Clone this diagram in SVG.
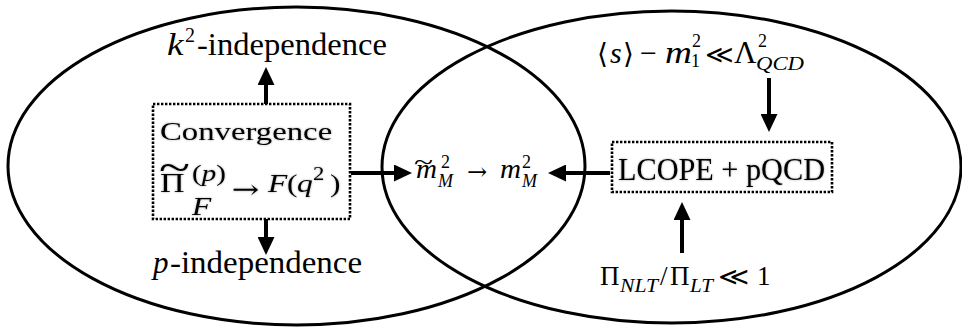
<svg xmlns="http://www.w3.org/2000/svg" width="962" height="332" viewBox="0 0 962 332">
<style>
.t{font-family:"Liberation Serif","DejaVu Serif","DejaVu Sans",serif;fill:#000}
.i{font-style:italic}
.sym{font-family:"DejaVu Serif","DejaVu Sans",serif;fill:#000}
.ell{fill:none;stroke:#000;stroke-width:3}
.box{fill:none;stroke:#000;stroke-width:2.6;stroke-dasharray:2.4 1.6}
.arr{stroke:#000;stroke-width:4;fill:none}
.glow{filter:url(#sh)}
</style>
<defs>
<marker id="ah" viewBox="0 0 18 17" refX="8" refY="8.5" markerWidth="18" markerHeight="17" markerUnits="userSpaceOnUse" orient="auto">
<path d="M0,0 L18,8.5 L0,17 Z" fill="#000"/>
</marker>
<filter id="sh" x="-10%" y="-20%" width="120%" height="140%">
<feGaussianBlur in="SourceAlpha" stdDeviation="1.3" result="b"/>
<feFlood flood-color="#000" flood-opacity="0.35"/>
<feComposite in2="b" operator="in" result="s"/>
<feMerge><feMergeNode in="s"/><feMergeNode in="SourceGraphic"/></feMerge>
</filter>
</defs>
<rect width="962" height="332" fill="#fff"/>
<g id="regions">
<ellipse class="ell" cx="296.5" cy="166" rx="288.5" ry="159"/>
<ellipse class="ell" cx="671.5" cy="167" rx="289.5" ry="156"/>
</g>
<g id="connectors">
<line class="arr" x1="266" y1="104" x2="266" y2="77" marker-end="url(#ah)"/>
<line class="arr" x1="266" y1="219" x2="266" y2="245" marker-end="url(#ah)"/>
<line class="arr" x1="351" y1="173" x2="402" y2="173" marker-end="url(#ah)"/>
<line class="arr" x1="610" y1="173" x2="558" y2="173" marker-end="url(#ah)"/>
<line class="arr" x1="769" y1="78" x2="769" y2="122" marker-end="url(#ah)"/>
<line class="arr" x1="682" y1="253" x2="682" y2="212" marker-end="url(#ah)"/>
</g>
<g id="k2-independence">
<text class="t i" transform="translate(167,55) scale(1.2,1)" font-size="31">k</text>
<text class="t" x="185" y="42" font-size="20">2</text>
<text class="t" x="197" y="55" font-size="31" textLength="190" lengthAdjust="spacingAndGlyphs">-independence</text>
</g>
<g id="p-independence">
<text class="t i" x="153" y="273" font-size="31">p</text>
<text class="t" x="170" y="273" font-size="31" textLength="192" lengthAdjust="spacingAndGlyphs">-independence</text>
</g>
<g id="convergence">
<rect class="box" x="153" y="104" width="197" height="115"/>
<g class="glow">
<text class="t" transform="translate(160,140) scale(1.26,1)" font-size="26">Convergence</text>
<text class="t" transform="translate(159,181) scale(1.43,1)" font-size="40">~</text>
<g transform="translate(160,192) scale(1.26,1)">
<text class="t" x="0" y="0" font-size="27">Π</text>
<text class="t" x="25.4" y="-11" font-size="23">(<tspan class="i">p</tspan>)</text>
<text class="t i" x="25.4" y="23" font-size="25">F</text>
<text class="sym" x="57" y="6" font-size="26">→</text>
<text class="t i" x="85.7" y="0" font-size="25">F</text>
<text class="t" x="100.8" y="0" font-size="25">(</text>
<text class="t i" x="108.7" y="0" font-size="25">q</text>
<text class="t" x="121.5" y="-12" font-size="18">2</text>
<text class="t" x="134.9" y="0" font-size="25">)</text>
</g>
</g>
</g>
<g id="mass">
<text class="t" transform="translate(414,170) scale(1.35,1)" font-size="26">~</text>
<text class="t i" transform="translate(416,178) scale(1.08,1)" font-size="27">m</text>
<text class="t" x="441" y="168" font-size="18">2</text>
<text class="t i" x="438" y="187" font-size="18">M</text>
<text class="sym" x="467" y="180" font-size="24">→</text>
<text class="t i" transform="translate(500,178) scale(1.08,1)" font-size="27">m</text>
<text class="t" x="522" y="168" font-size="18">2</text>
<text class="t i" x="522" y="187" font-size="18">M</text>
</g>
<g id="lcope-pqcd">
<rect class="box" x="612" y="142" width="220" height="50"/>
<text class="t glow" x="618" y="180" font-size="31" textLength="207" lengthAdjust="spacingAndGlyphs">LCOPE + pQCD</text>
</g>
<g id="s-condition">
<text class="sym" x="597" y="63" font-size="28">⟨</text>
<text class="t i" x="610" y="63" font-size="30">s</text>
<text class="sym" x="623" y="63" font-size="28">⟩</text>
<text class="t" x="640" y="63" font-size="30">−</text>
<text class="t i" transform="translate(665,63) scale(1.2,1)" font-size="31">m</text>
<text class="t" x="692" y="47" font-size="18">2</text>
<text class="t" x="691" y="67" font-size="18">1</text>
<text class="sym" transform="translate(705,63) scale(1.1,1)" font-size="25">≪</text>
<text class="t" x="734" y="63" font-size="31">Λ</text>
<text class="t" x="758" y="47" font-size="18">2</text>
<text class="t i" x="756" y="70" font-size="19" textLength="48" lengthAdjust="spacingAndGlyphs">QCD</text>
</g>
<g id="pi-condition">
<text class="t" x="600" y="285" font-size="27">Π</text>
<text class="t i" x="620" y="292" font-size="18" textLength="38" lengthAdjust="spacingAndGlyphs">NLT</text>
<text class="t" x="660" y="285" font-size="27">/</text>
<text class="t" x="670" y="285" font-size="27">Π</text>
<text class="t i" x="690" y="292" font-size="18" textLength="23" lengthAdjust="spacingAndGlyphs">LT</text>
<text class="sym" transform="translate(718,285) scale(1.2,1)" font-size="25">≪</text>
<text class="t" x="757" y="285" font-size="27">1</text>
</g>
</svg>
